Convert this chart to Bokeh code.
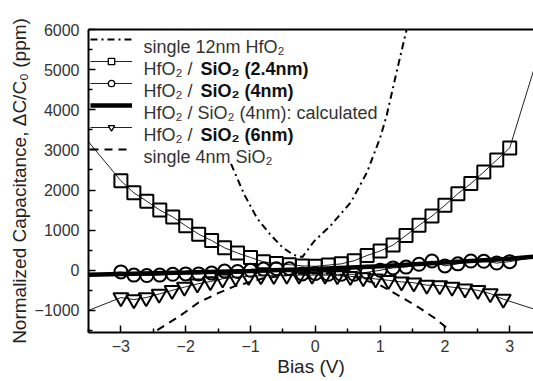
from bokeh.plotting import figure
from bokeh.models import (Range1d, LinearAxis, FixedTicker, Legend, LegendItem, Label)
from bokeh.embed import file_html
from bokeh.resources import INLINE

# ---------------- data ----------------
bias_ticks = [-3, -2, -1, 0, 1, 2, 3]
ppm_ticks = [-1000, 0, 1000, 2000, 3000, 4000, 5000, 6000]

# single 12nm HfO2 (dash-dot)
hfo2_v = [-1.3, -1.1, -0.9, -0.7, -0.5, -0.33, -0.2, -0.02, 0.24, 0.55, 0.8, 1.0, 1.1, 1.27, 1.41]
hfo2_ppm = [2650, 1900, 1300, 900, 560, 380, 330, 720, 1120, 1700, 2450, 3300, 3850, 5050, 6000]

# HfO2 / SiO2 (2.4nm) squares
sq_v = [-3.0, -2.8, -2.6, -2.4, -2.2, -2.0, -1.8, -1.6, -1.4, -1.2, -1.0, -0.8, -0.6, -0.4, -0.2,
        0.0, 0.2, 0.4, 0.6, 0.8, 1.0, 1.2, 1.4, 1.6, 1.8, 2.0, 2.2, 2.4, 2.6, 2.8, 3.0]
sq_ppm = [2230, 1930, 1720, 1500, 1330, 1110, 900, 740, 560, 430, 320, 210, 170, 140, 110,
          100, 130, 160, 240, 370, 480, 630, 870, 1120, 1350, 1620, 1910, 2160, 2450, 2750, 3050]
sq_fit_left = (-3.5, 3200)
sq_fit_right = (3.4, 5150)

# HfO2 / SiO2 (4nm) circles
ci_v = sq_v
ci_ppm = [-40, -120, -130, -120, -100, -90, -90, -70, -20, -30, 0, 30, 40, 40, -90,
          -80, -100, -100, -100, -50, 0, 60, 80, 150, 230, 110, 160, 230, 225, 180, 215]
ci_fit_left = (-3.5, -110)
ci_fit_right = (3.4, 330)

# HfO2 / SiO2 (4nm): calculated
calc_v = [-3.5, -3.0, -2.0, -1.0, 0.0, 1.0, 2.0, 3.0, 3.4]
calc_ppm = [-110, -90, -55, -15, 35, 100, 195, 290, 340]

# HfO2 / SiO2 (6nm) triangles
tr_v = [-3.0, -2.8, -2.61, -2.41, -2.21, -2.02, -1.82, -1.62, -1.43, -1.23, -1.03, -0.84, -0.64, -0.44, -0.25,
        -0.05, 0.15, 0.34, 0.54, 0.74, 0.93, 1.13, 1.33, 1.52, 1.72, 1.92, 2.11, 2.31, 2.51, 2.70, 2.90]
tr_ppm = [-680, -730, -680, -590, -500, -420, -340, -280, -210, -170, -150, -135, -125, -120, -120,
          -120, -120, -130, -150, -180, -215, -250, -290, -310, -370, -380, -420, -460, -500, -580, -720]
tr_fit_left = (-3.5, -1000)
tr_fit_right = (3.4, -980)

# single 4nm SiO2 (dashed)
sio2_v = [-2.6, -2.45, -2.1, -1.8, -1.5, -1.25, -0.8, -0.3, 0.2, 0.6, 1.0, 1.35, 1.6, 1.85, 2.05]
sio2_ppm = [-1720, -1500, -1150, -800, -570, -400, -200, -90, -70, -160, -370, -690, -930, -1200, -1460]

legend_rows = [
    ("single 12nm HfO\u2082", None),
    ("HfO\u2082 / ", "SiO\u2082 (2.4nm)"),
    ("HfO\u2082 / ", "SiO\u2082 (4nm)"),
    ("HfO\u2082 / SiO\u2082 (4nm): calculated", None),
    ("HfO\u2082 / ", "SiO\u2082 (6nm)"),
    ("single 4nm SiO\u2082", None),
]

# ---------------- figure ----------------
W, H = 533, 381
ML, MR, MT, MB = 88, 0, 29, 49
X0, X1 = -3.5, 3.367
Y0, Y1 = -1550, 6000

p = figure(width=W, height=H, output_backend="svg", toolbar_location=None,
           x_range=Range1d(X0, X1), y_range=Range1d(Y0, Y1),
           min_border_left=ML, min_border_right=MR, min_border_top=MT, min_border_bottom=MB)
p.outline_line_color = None
p.xgrid.visible = False
p.ygrid.visible = False
p.background_fill_color = "white"

FONT = "Liberation Sans"
for ax in (p.xaxis[0], p.yaxis[0]):
    ax.axis_line_width = 2
    ax.axis_line_color = "black"
    ax.major_tick_line_color = "black"
    ax.minor_tick_line_color = "black"
    ax.major_tick_line_width = 1.5
    ax.minor_tick_line_width = 1.5
    ax.major_tick_in = 7
    ax.major_tick_out = 0
    ax.minor_tick_in = 4
    ax.minor_tick_out = 0
    ax.major_label_text_font = FONT
    ax.major_label_text_font_size = "16px"
    ax.major_label_text_color = "#333333"
    ax.axis_label_text_font = FONT
    ax.axis_label_text_font_size = "19px"
    ax.axis_label_text_font_style = "normal"
    ax.axis_label_text_color = "#222222"

p.xaxis.ticker = FixedTicker(ticks=bias_ticks, minor_ticks=[-3.5, -2.5, -1.5, -0.5, 0.5, 1.5, 2.5, 3.5])
p.yaxis.ticker = FixedTicker(ticks=ppm_ticks, minor_ticks=[-1500, -500, 500, 1500, 2500, 3500, 4500, 5500])
p.xaxis.axis_label = "Bias (V)"
p.yaxis.axis_label = "Normalized Capacitance, \u0394C/C\u2080 (ppm)"
p.xaxis.major_label_standoff = 7
p.yaxis.major_label_standoff = 9
p.xaxis.axis_label_standoff = 1
p.yaxis.axis_label_standoff = 2

top = LinearAxis(ticker=FixedTicker(ticks=[]), axis_line_width=2, axis_line_color="black")
p.add_layout(top, "above")

# ---------------- series ----------------
r_hfo2 = p.line(hfo2_v, hfo2_ppm, line_color="black", line_width=2, line_dash="7 4 2 4")

sq_lx = [sq_fit_left[0]] + sq_v + [sq_fit_right[0]]
sq_ly = [sq_fit_left[1]] + sq_ppm + [sq_fit_right[1]]
r_sq_l = p.line(sq_lx, sq_ly, line_color="#222222", line_width=1)
p.scatter(sq_v, sq_ppm, marker="square", size=13, fill_color=None, line_color="black", line_width=2)

ci_lx = [ci_fit_left[0]] + ci_v + [ci_fit_right[0]]
ci_ly = [ci_fit_left[1]] + ci_ppm + [ci_fit_right[1]]
r_ci_l = p.line(ci_lx, ci_ly, line_color="#222222", line_width=1)
p.scatter(ci_v, ci_ppm, marker="circle", size=13, fill_color=None, line_color="black", line_width=2)

r_calc = p.line(calc_v, calc_ppm, line_color="black", line_width=4.5)

tr_lx = [tr_fit_left[0]] + tr_v + [tr_fit_right[0]]
tr_ly = [tr_fit_left[1]] + tr_ppm + [tr_fit_right[1]]
r_tr_l = p.line(tr_lx, tr_ly, line_color="#222222", line_width=1)
p.scatter(tr_v, tr_ppm, marker="inverted_triangle", size=15, fill_color=None, line_color="black", line_width=2)

r_sio2 = p.line(sio2_v, sio2_ppm, line_color="black", line_width=2, line_dash="8 6")

# legend-only marker proxies (small markers, as in the original legend); NaN so nothing is drawn in the plot
NAN = float("nan")
def proxy(marker):
    return p.scatter(x=[NAN], y=[NAN], marker=marker, size=6, fill_color="white",
                     line_color="black", line_width=1.3)
r_sq_p = proxy("square")
r_ci_p = proxy("circle")
r_tr_p = proxy("inverted_triangle")

# ---------------- legend (glyph samples) ----------------
groups = [[r_hfo2], [r_sq_l, r_sq_p], [r_ci_l, r_ci_p], [r_calc], [r_tr_l, r_tr_p], [r_sio2]]
items = [LegendItem(label=" ", renderers=g) for g in groups]
GH, SP, PAD, MAR = 16, 6, 7, 2
leg = Legend(items=items, location="top_left", margin=MAR, padding=PAD, spacing=SP,
             glyph_width=42, glyph_height=GH, label_height=GH, label_width=0, label_standoff=0,
             label_text_font_size="1px", border_line_color=None, background_fill_alpha=0)
p.add_layout(leg)

# legend texts, placed by pixel offsets converted to data units
fw = W - ML - MR
fh = H - MT - MB
def dx(px):
    return X0 + px * (X1 - X0) / fw
def dy(py):
    return Y1 - py * (Y1 - Y0) / fh

text_x = MAR + PAD + 42 + 4
bold_x = text_x + 57
for i, (plain, bold) in enumerate(legend_rows):
    yc = MAR + PAD + GH / 2 + i * (GH + SP)
    p.add_layout(Label(x=dx(text_x), y=dy(yc), text=plain, text_font=FONT, text_font_size="18px",
                       text_color="#333333", text_baseline="middle", text_align="left"))
    if bold:
        p.add_layout(Label(x=dx(bold_x), y=dy(yc), text=bold, text_font=FONT, text_font_size="18px",
                           text_font_style="bold", text_color="#111111",
                           text_baseline="middle", text_align="left"))

open("out.html", "w").write(file_html(p, INLINE))
